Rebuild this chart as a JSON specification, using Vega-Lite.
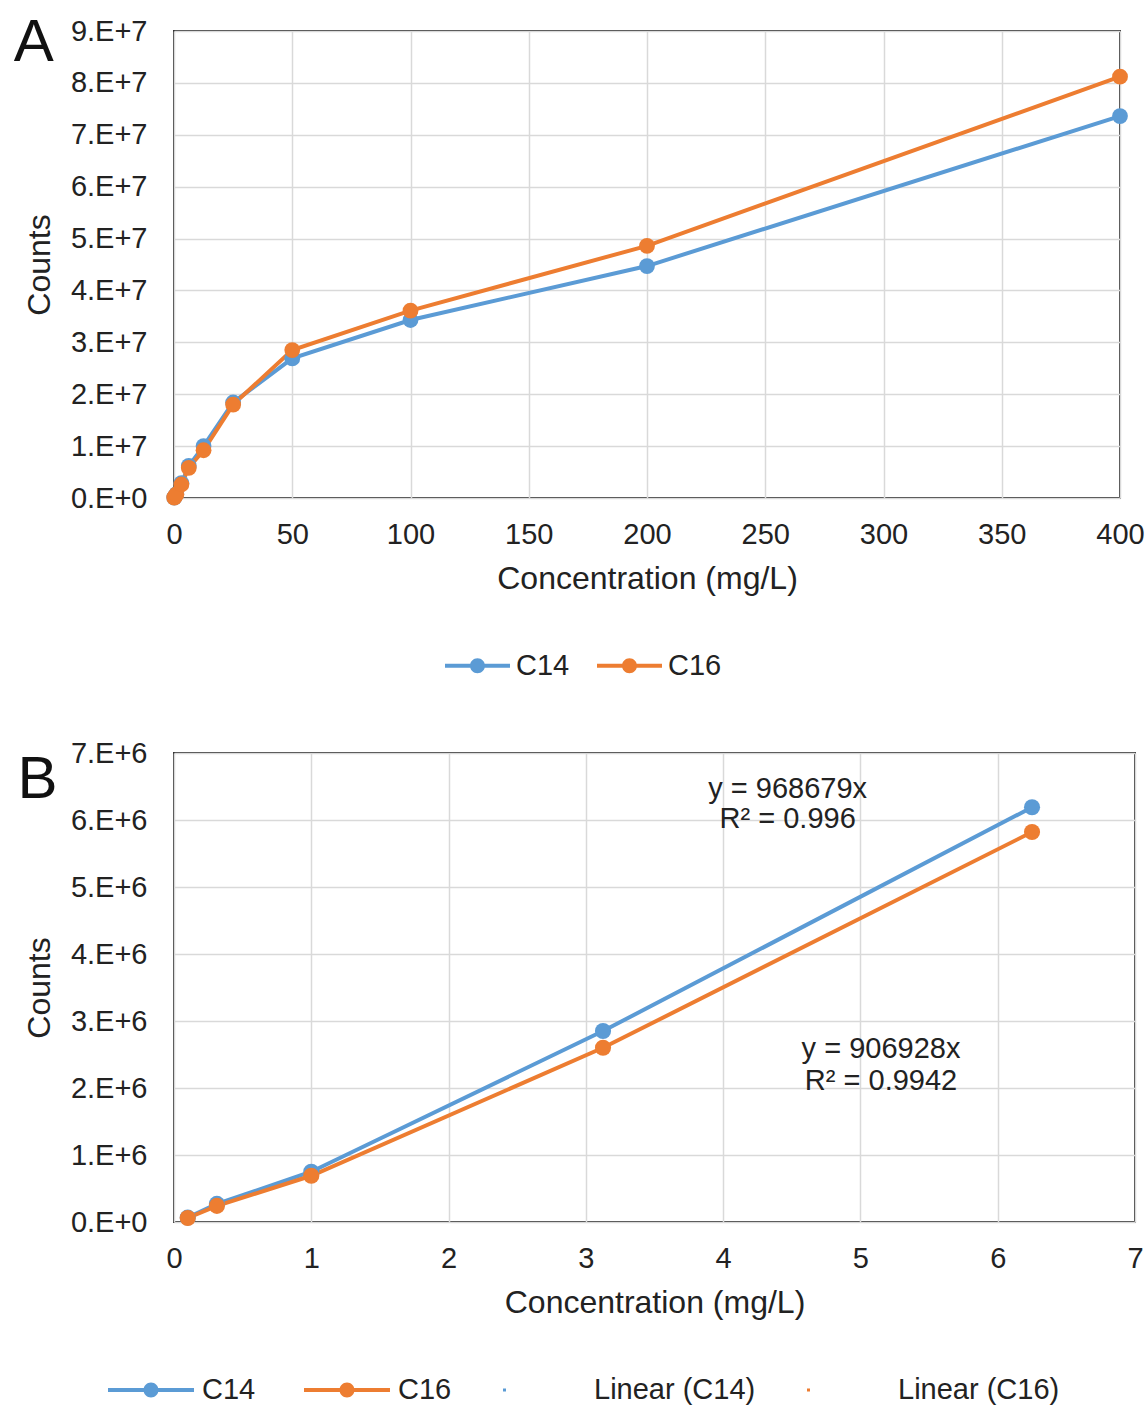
{
  "$schema": "https://vega.github.io/schema/vega-lite/v6.json",
  "padding": {"left": 12, "top": 12, "right": 0, "bottom": 0},
  "config": {
    "font": "Liberation Sans",
    "view": {"stroke": "#333333", "strokeWidth": 2},
    "axis": {"grid": true, "gridColor": "#d9d9d9", "gridWidth": 1.5, "domain": false, "ticks": false, "tickSize": 0, "labelFontSize": 29, "labelColor": "#222222", "titleFontSize": 32, "titleColor": "#222222", "titleFontWeight": "normal", "labelFont": "Liberation Sans", "titleFont": "Liberation Sans", "labelFlush": false},
    "axisX": {"labelPadding": 22, "titlePadding": 14},
    "axisY": {"labelPadding": 27, "titlePadding": 14},
    "legend": {"labelFontSize": 29, "labelColor": "#222222", "labelFont": "Liberation Sans", "padding": 0, "symbolStrokeWidth": 0, "labelLimit": 0},
    "text": {"font": "Liberation Sans"}
  },
  "datasets": {
    "a": [
      {"conc": 0.1, "counts": 65000, "series": "C14"},
      {"conc": 0.3125, "counts": 270000, "series": "C14"},
      {"conc": 1, "counts": 750000, "series": "C14"},
      {"conc": 3.125, "counts": 2850000, "series": "C14"},
      {"conc": 6.25, "counts": 6190000, "series": "C14"},
      {"conc": 12.5, "counts": 10000000, "series": "C14"},
      {"conc": 25, "counts": 18400000, "series": "C14"},
      {"conc": 50, "counts": 26900000, "series": "C14"},
      {"conc": 100, "counts": 34300000, "series": "C14"},
      {"conc": 200, "counts": 44700000, "series": "C14"},
      {"conc": 400, "counts": 73600000, "series": "C14"},
      {"conc": 0.1, "counts": 60000, "series": "C16"},
      {"conc": 0.3125, "counts": 240000, "series": "C16"},
      {"conc": 1, "counts": 690000, "series": "C16"},
      {"conc": 3.125, "counts": 2600000, "series": "C16"},
      {"conc": 6.25, "counts": 5820000, "series": "C16"},
      {"conc": 12.5, "counts": 9200000, "series": "C16"},
      {"conc": 25, "counts": 18000000, "series": "C16"},
      {"conc": 50, "counts": 28500000, "series": "C16"},
      {"conc": 100, "counts": 36100000, "series": "C16"},
      {"conc": 200, "counts": 48600000, "series": "C16"},
      {"conc": 400, "counts": 81200000, "series": "C16"}
    ],
    "b": [
      {"conc": 0.1, "counts": 65000, "series": "C14"},
      {"conc": 0.3125, "counts": 270000, "series": "C14"},
      {"conc": 1, "counts": 750000, "series": "C14"},
      {"conc": 3.125, "counts": 2850000, "series": "C14"},
      {"conc": 6.25, "counts": 6190000, "series": "C14"},
      {"conc": 0.1, "counts": 60000, "series": "C16"},
      {"conc": 0.3125, "counts": 240000, "series": "C16"},
      {"conc": 1, "counts": 690000, "series": "C16"},
      {"conc": 3.125, "counts": 2600000, "series": "C16"},
      {"conc": 6.25, "counts": 5820000, "series": "C16"}
    ],
    "labelA": [{"conc": -59.3, "counts": 84200000, "t": "A"}],
    "labelB": [{"conc": -0.994, "counts": 6330000, "t": "B"}],
    "eqB": [
      {"conc": 4.47, "counts": 6330000, "t": "y = 968679x"},
      {"conc": 4.47, "counts": 5880000, "t": "R² = 0.996"},
      {"conc": 5.15, "counts": 2450000, "t": "y = 906928x"},
      {"conc": 5.15, "counts": 1970000, "t": "R² = 0.9942"}
    ]
  },
  "spacing": 56,
  "resolve": {"scale": {"color": "independent"}, "legend": {"color": "independent"}},
  "vconcat": [
    {
      "width": 946,
      "height": 467,
      "layer": [
        {
          "data": {"name": "a"},
          "encoding": {
            "x": {"field": "conc", "type": "quantitative", "scale": {"domain": [0, 400], "nice": false, "zero": false}, "axis": {"values": [0, 50, 100, 150, 200, 250, 300, 350, 400], "title": "Concentration (mg/L)", "format": "d"}},
            "y": {"field": "counts", "type": "quantitative", "scale": {"domain": [0, 90000000], "nice": false}, "axis": {"values": [0, 10000000, 20000000, 30000000, 40000000, 50000000, 60000000, 70000000, 80000000, 90000000], "title": "Counts", "labelExpr": "datum.value == 0 ? '0.E+0' : format(round(datum.value / 10000000), 'd') + '.E+7'"}},
            "color": {"field": "series", "type": "nominal", "scale": {"domain": ["C14", "C16"], "range": ["#5B9BD5", "#ED7D31"]},
              "legend": {"orient": "none", "legendX": 271, "legendY": 602, "direction": "horizontal", "title": null, "symbolSize": 4225, "symbolType": "M-1,-0.06L1,-0.06L1,0.06L-1,0.06Z M0.23,0A0.23,0.23 0 1,1 -0.23,0A0.23,0.23 0 1,1 0.23,0Z", "symbolFillColor": {"expr": "datum.value === 'C14' ? '#5B9BD5' : '#ED7D31'"}, "labelOffset": 6, "columnPadding": 27, "symbolOpacity": 1}}
          },
          "layer": [
            {"mark": {"type": "line", "strokeWidth": 4}},
            {"mark": {"type": "point", "filled": true, "size": 250, "opacity": 1}}
          ]
        },
        {
          "data": {"name": "labelA"},
          "mark": {"type": "text", "fontSize": 60, "baseline": "alphabetic", "align": "center", "color": "#111111"},
          "encoding": {
            "x": {"field": "conc", "type": "quantitative"},
            "y": {"field": "counts", "type": "quantitative"},
            "text": {"field": "t"}
          }
        }
      ]
    },
    {
      "width": 961,
      "height": 469,
      "layer": [
        {
          "data": {"name": "b"},
          "encoding": {
            "x": {"field": "conc", "type": "quantitative", "scale": {"domain": [0, 7], "nice": false, "zero": false}, "axis": {"values": [0, 1, 2, 3, 4, 5, 6, 7], "title": "Concentration (mg/L)", "format": "d"}},
            "y": {"field": "counts", "type": "quantitative", "scale": {"domain": [0, 7000000], "nice": false}, "axis": {"values": [0, 1000000, 2000000, 3000000, 4000000, 5000000, 6000000, 7000000], "title": "Counts", "labelExpr": "datum.value == 0 ? '0.E+0' : format(round(datum.value / 1000000), 'd') + '.E+6'"}},
            "color": {"field": "series", "type": "nominal", "scale": {"domain": ["C14", "C16", "Linear (C14)", "Linear (C16)"], "range": ["#5B9BD5", "#ED7D31", "#5B9BD5", "#ED7D31"]},
              "legend": {"orient": "none", "legendX": -66, "legendY": 594, "direction": "horizontal", "title": null, "symbolSize": 7396, "symbolType": {"expr": "indexof(datum.value, 'Linear') === 0 ? 'M-0.93,-0.035L-0.86,-0.035L-0.86,0.035L-0.93,0.035Z' : 'M-1,-0.047L1,-0.047L1,0.047L-1,0.047Z M0.174,0A0.174,0.174 0 1,1 -0.174,0A0.174,0.174 0 1,1 0.174,0Z'"}, "symbolFillColor": {"expr": "indexof(datum.value, 'C14') >= 0 ? '#5B9BD5' : '#ED7D31'"}, "labelOffset": 8, "columnPadding": 48, "symbolOpacity": 1}}
          },
          "layer": [
            {"mark": {"type": "line", "strokeWidth": 4}},
            {"mark": {"type": "point", "filled": true, "size": 260, "opacity": 1}}
          ]
        },
        {
          "data": {"name": "labelB"},
          "mark": {"type": "text", "fontSize": 60, "baseline": "alphabetic", "align": "center", "color": "#111111"},
          "encoding": {
            "x": {"field": "conc", "type": "quantitative"},
            "y": {"field": "counts", "type": "quantitative"},
            "text": {"field": "t"}
          }
        },
        {
          "data": {"name": "eqB"},
          "mark": {"type": "text", "fontSize": 29, "baseline": "alphabetic", "align": "center", "color": "#222222"},
          "encoding": {
            "x": {"field": "conc", "type": "quantitative"},
            "y": {"field": "counts", "type": "quantitative"},
            "text": {"field": "t"}
          }
        }
      ]
    }
  ]
}
